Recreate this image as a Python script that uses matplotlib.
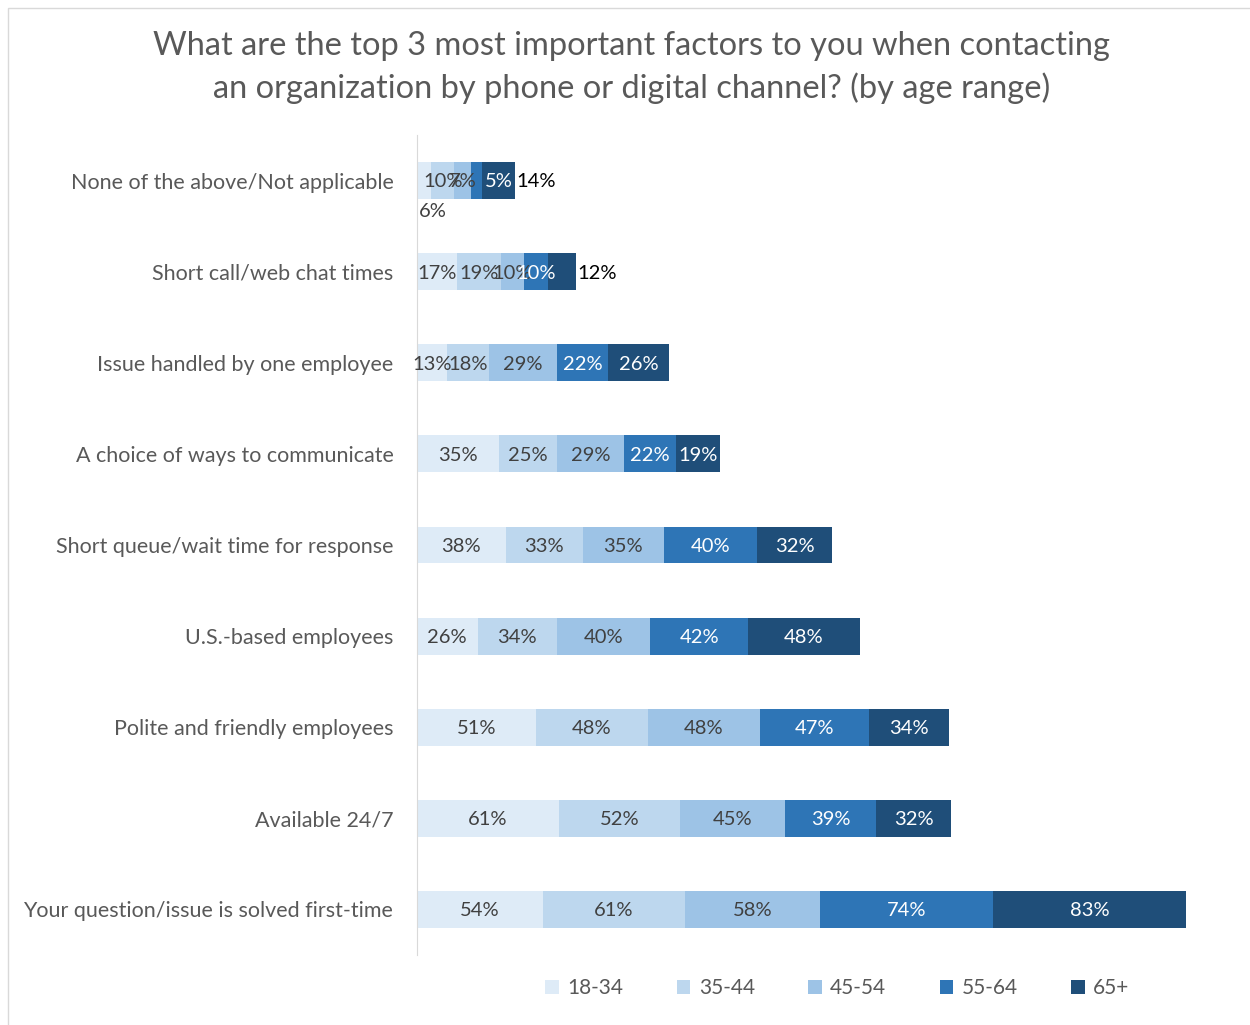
import matplotlib
matplotlib.use("Agg")
import matplotlib.pyplot as plt
from matplotlib.patches import Rectangle
import numpy as np

plt.rcParams["font.family"] = ["Lato", "DejaVu Sans"]

TITLE = ("What are the top 3 most important factors to you when contacting\n"
         "an organization by phone or digital channel? (by age range)")

categories = [
    "None of the above/Not applicable",
    "Short call/web chat times",
    "Issue handled by one employee",
    "A choice of ways to communicate",
    "Short queue/wait time for response",
    "U.S.-based employees",
    "Polite and friendly employees",
    "Available 24/7",
    "Your question/issue is solved first-time",
]
age_groups = ["18-34", "35-44", "45-54", "55-64", "65+"]
age_18_34 = [6, 17, 13, 35, 38, 26, 51, 61, 54]
age_35_44 = [10, 19, 18, 25, 33, 34, 48, 52, 61]
age_45_54 = [7, 10, 29, 29, 35, 40, 48, 45, 58]
age_55_64 = [5, 10, 22, 22, 40, 42, 47, 39, 74]
age_65_up = [14, 12, 26, 19, 32, 48, 34, 32, 83]

series = [age_18_34, age_35_44, age_45_54, age_55_64, age_65_up]
colors = ["#DEEBF7", "#BDD7EE", "#9DC3E6", "#2E75B6", "#1F4E79"]
label_colors = ["#404040", "#404040", "#404040", "white", "white"]

# label nudges for crowded small segments (row, series) -> (dx, dy) in points
nudges = {(0, 3): (16, 0)}

fig = plt.figure(figsize=(12.5, 10.25), dpi=100)
ax = fig.add_axes([0.3336, 0.0683, 0.6528, 0.80])

y = np.arange(len(categories))
left = np.zeros(len(categories))
for i, (vals, c) in enumerate(zip(series, colors)):
    vals = np.array(vals, dtype=float)
    ax.barh(y, vals, left=left, height=0.405, color=c, label=age_groups[i])
    for j, v in enumerate(vals):
        txt = f"{int(v)}%"
        cx = left[j] + v / 2
        if i == len(series) - 1 and v < 15:
            ax.annotate(txt, (left[j] + v, j), xytext=(1, -1), textcoords="offset points",
                        ha="left", va="center", fontsize=14.5, color="black")
        elif i == 0 and v < 8:
            ax.annotate(txt, (0, j), xytext=(1, -22.5), textcoords="offset points",
                        ha="left", va="center", fontsize=14.5, color=label_colors[i])
        else:
            dx, dy = nudges.get((j, i), (0, 0))
            ax.annotate(txt, (cx, j), xytext=(dx, dy - 1), textcoords="offset points",
                        ha="center", va="center", fontsize=14.5, color=label_colors[i])
    left += vals

ax.set_xlim(0, 350)
ax.set_ylim(len(categories) - 0.5, -0.5)
ax.set_yticks(y)
ax.set_yticklabels(categories, fontsize=15.5, color="#595959")
ax.tick_params(axis="y", length=0, pad=17)
ax.set_xticks([])
for s in ["top", "right", "bottom"]:
    ax.spines[s].set_visible(False)
ax.spines["left"].set_color("#D9D9D9")

fig.text(0.505, 0.934, TITLE, ha="center", va="center", fontsize=23.5,
         color="#595959", linespacing=1.42)

fig.legend(loc="center", bbox_to_anchor=(0.67, 0.036), ncol=5, frameon=False,
           fontsize=15, labelcolor="#595959", handlelength=0.65, handleheight=0.65,
           handletextpad=0.4, columnspacing=2.57)

fig.patches.append(Rectangle((0.0064, -0.01), 1.2, 1.002,
                             transform=fig.transFigure, fill=False,
                             edgecolor="#D9D9D9", linewidth=1))

fig.savefig("out.png", dpi=100)
